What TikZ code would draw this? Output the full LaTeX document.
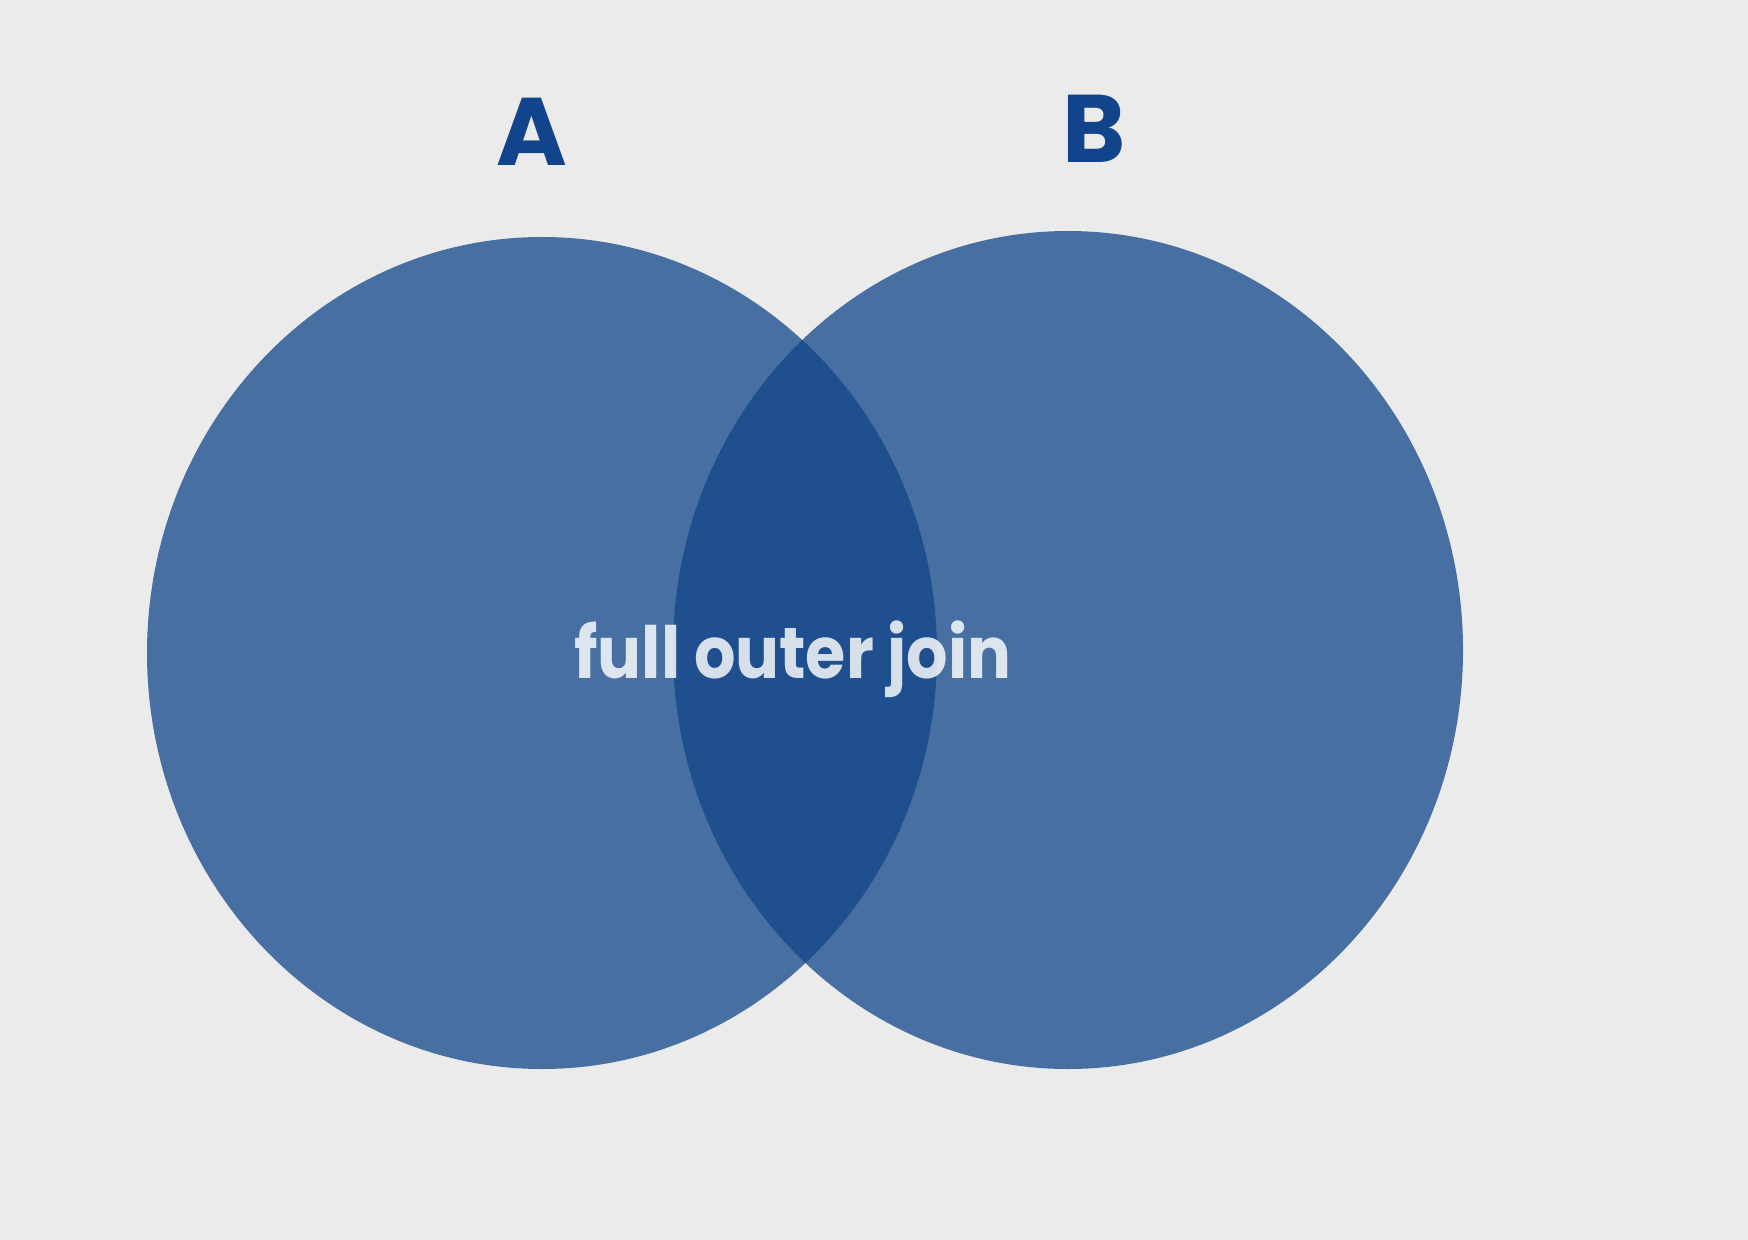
\documentclass[tikz,border=0pt]{standalone}
\usepackage{fontspec}
\setmainfont{Poppins}
\newfontfamily\popb{Poppins}[UprightFont=* Bold]
\definecolor{bg}{HTML}{EBEBEB}
\definecolor{setfill}{HTML}{476FA2}
\definecolor{overlapfill}{HTML}{1F4F8F}
\definecolor{labelblue}{HTML}{11448A}
\tikzset{
  setlabel/.style={font=\popb\fontsize{48}{48}\selectfont, text=labelblue, inner sep=0pt, anchor=base},
  jointext/.style={font=\popb\fontsize{36}{36}\selectfont, text=white, text opacity=0.82, inner sep=0pt, anchor=base west}
}
\begin{document}
\begin{tikzpicture}[x=0.5pt,y=-0.5pt]
  \fill[bg] (0,0) rectangle (1748,1240);
  \useasboundingbox (0,0) rectangle (1748,1240);
  \coordinate (cA) at (542,653);
  \coordinate (cB) at (1068,650);
  \fill[setfill] (cA) ellipse [x radius=197.5pt, y radius=208pt];
  \fill[setfill] (cB) ellipse [x radius=197.5pt, y radius=209.5pt];
  \begin{scope}
    \clip (cA) ellipse [x radius=197.5pt, y radius=208pt];
    \fill[overlapfill] (cB) ellipse [x radius=197.5pt, y radius=209.5pt];
  \end{scope}
  \node[setlabel] (labA) at (532,166) {A};
  \node[setlabel] (labB) at (1094,163) {B};
  \node[jointext] (join) at (574,678) {\scalebox{0.905}[1]{full outer join}};
\end{tikzpicture}
\end{document}
